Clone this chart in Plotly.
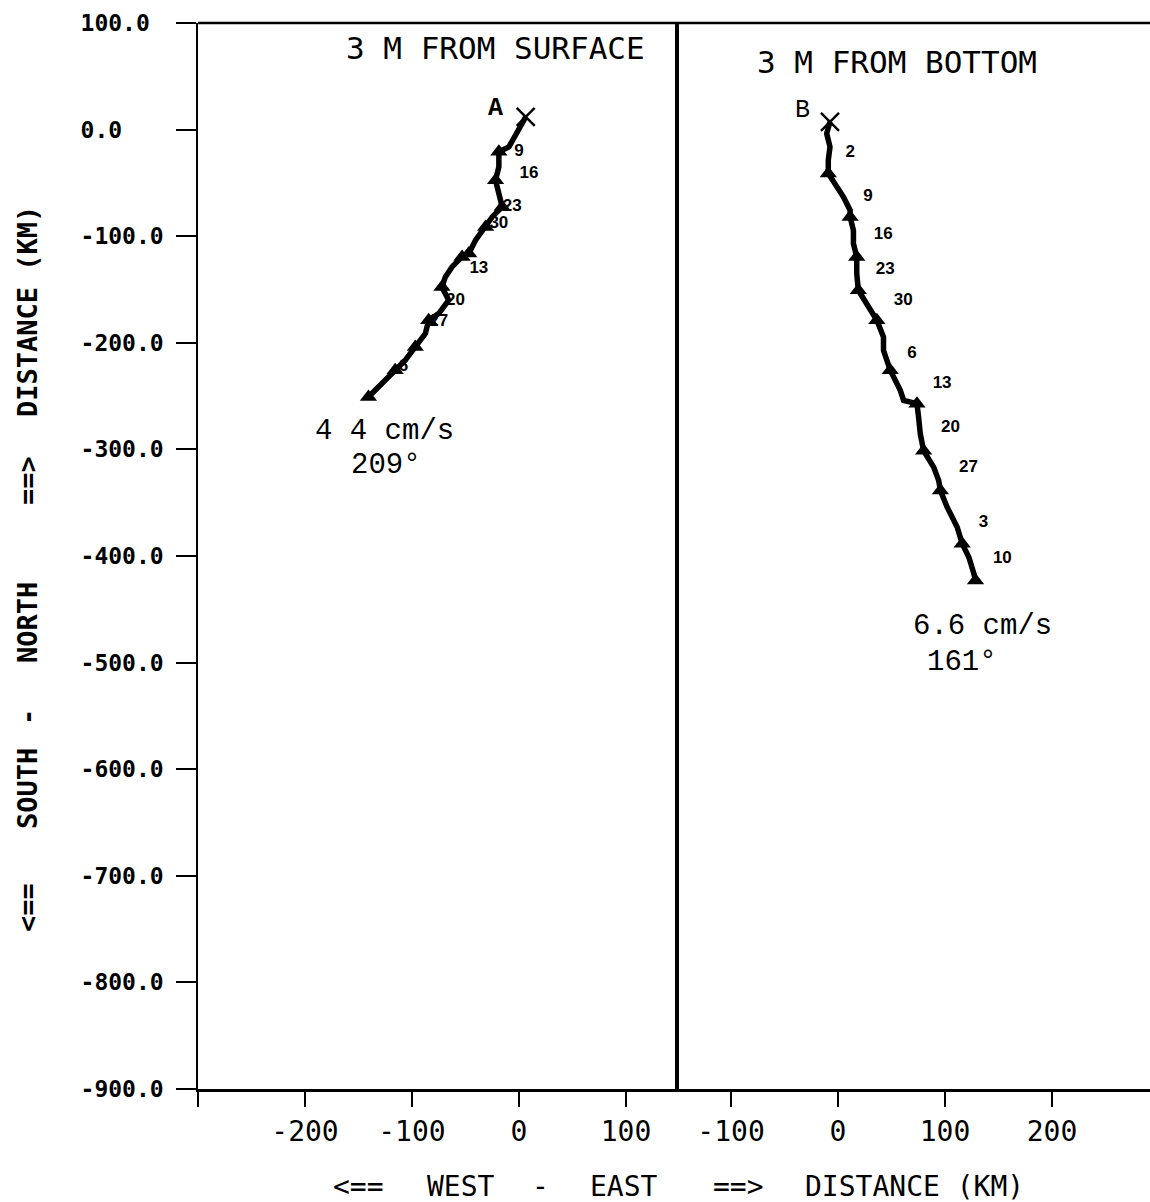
import plotly.graph_objects as go

# ---- progressive vector paths (km east, km north) ----
# 3 m below the surface (meter A)
surf_east = [6.3, -1.6, -9.4, -18.8, -18.8, -21.9, -18.8, -15.7, -25.0, -31.2,
             -40.6, -46.9, -53.2, -62.6, -68.8, -72.0, -65.7, -75.0, -84.4, -87.5,
             -96.9, -106.3, -115.7, -125.0, -134.4, -140.7]
surf_north = [12.0, -3.6, -16.2, -20.8, -34.9, -47.4, -59.9, -72.5, -81.9, -91.3,
              -103.8, -116.2, -119.4, -128.8, -138.2, -147.6, -160.1, -172.6, -178.9, -191.4,
              -203.9, -216.4, -225.8, -235.2, -244.6, -250.9]

# 3 m above the bottom (meter B)
bot_east = [-7.5, -10.6, -7.5, -9.1, -9.1, -2.8, 5.0, 11.3, 11.3, 14.4,
            14.4, 17.5, 17.5, 19.0, 26.9, 36.3, 42.5, 42.5, 48.8, 58.2,
            61.3, 73.8, 75.3, 76.9, 80.0, 89.4, 94.1, 95.7, 102.0, 111.4,
            116.1, 122.3, 127.0, 128.5]
bot_north = [7.3, -3.6, -16.2, -28.6, -41.1, -50.5, -63.1, -75.6, -81.9, -94.4,
             -106.9, -119.4, -135.0, -150.7, -163.2, -178.9, -194.6, -207.0, -225.8, -244.6,
             -254.0, -257.1, -269.7, -285.3, -301.2, -316.6, -329.1, -338.5, -354.2, -373.0,
             -388.5, -401.1, -416.7, -423.0]

# weekly positions (triangles)
surf_week_east = [-18.8, -21.9, -15.7, -31.2, -46.9, -53.2, -72.0, -84.4, -96.9, -115.7, -140.7]
surf_week_north = [-20.8, -47.4, -72.5, -91.3, -116.2, -119.4, -147.6, -178.9, -203.9, -225.8, -250.9]
bot_week_east = [-9.1, 11.3, 17.5, 19.0, 36.3, 48.8, 73.8, 80.0, 95.7, 116.1, 128.5]
bot_week_north = [-41.1, -81.9, -119.4, -150.7, -178.9, -225.8, -257.1, -301.2, -338.5, -388.5, -423.0]

# day-of-month labels along the paths
surf_day_text = ["9", "16", "23", "30", "13", "20", "27", "6"]
surf_day_east = [0.0, 9.4, -6.3, -18.8, -37.5, -59.4, -75.0, -107.9]
surf_day_north = [-20.8, -41.1, -72.5, -88.1, -130.2, -160.1, -180.5, -222.8]
bot_day_text = ["2", "9", "16", "23", "30", "6", "13", "20", "27", "3", "10"]
bot_day_east = [11.3, 28.1, 42.2, 44.1, 61.0, 69.1, 97.3, 105.1, 122.0, 136.0, 153.6]
bot_day_north = [-22.1, -63.4, -99.1, -131.9, -160.1, -209.9, -238.0, -279.3, -316.9, -368.5, -402.3]

# mean-current summaries
surf_mean = ["4 4 cm/s", "209°"]
surf_mean_east = [-125.5, -124.3]
surf_mean_north = [-283.0, -315.0]
bot_mean = ["6.6 cm/s", "161°"]
bot_mean_east = [135.5, 115.6]
bot_mean_north = [-466.0, -499.5]

# axes
y_ticks = [100, 0, -100, -200, -300, -400, -500, -600, -700, -800, -900]
y_tick_text = ["100.0", "0.0", "-100.0", "-200.0", "-300.0", "-400.0",
               "-500.0", "-600.0", "-700.0", "-800.0", "-900.0"]
left_x_ticks = [-300, -200, -100, 0, 100]
left_x_text = ["", "-200", "-100", "0", "100"]
right_x_ticks = [-100, 0, 100, 200]
right_x_text = ["-100", "0", "100", "200"]

W, H = 1150, 1202
BLACK = "black"
MONO = "DejaVu Sans Mono"
TYPE = "Liberation Mono"
NBSP = "\u00a0"


def px(x):
    return x / W


def py(y):
    return 1 - y / H


X_LEFT, X_DIV = 198, 677
Y_TOP, Y_BOT = 23, 1089

# y labels are left-justified in a fixed-width column
label_width = max(len(t) for t in y_tick_text)
y_tick_padded = [t + NBSP * (label_width - len(t)) for t in y_tick_text]

fig = go.Figure()


def add_panel(xa, ya, east, north, wk_e, wk_n, d_e, d_n, d_t):
    fig.add_trace(go.Scatter(
        x=d_e, y=d_n, text=d_t, mode="text", xaxis=xa, yaxis=ya,
        textfont=dict(family="Liberation Sans", size=17, color=BLACK, weight="bold"),
        showlegend=False, hoverinfo="skip"))
    fig.add_trace(go.Scatter(
        x=east, y=north, mode="lines", xaxis=xa, yaxis=ya,
        line=dict(color=BLACK, width=5.5), showlegend=False))
    fig.add_trace(go.Scatter(
        x=wk_e, y=wk_n, mode="markers", xaxis=xa, yaxis=ya,
        marker=dict(symbol="triangle-up", size=15, color=BLACK),
        showlegend=False))
    fig.add_trace(go.Scatter(
        x=[east[0]], y=[north[0]], mode="markers", xaxis=xa, yaxis=ya,
        marker=dict(symbol="x-thin", size=18, line=dict(color=BLACK, width=2.5)),
        showlegend=False))


add_panel("x", "y", surf_east, surf_north, surf_week_east, surf_week_north,
          surf_day_east, surf_day_north, surf_day_text)
add_panel("x2", "y2", bot_east, bot_north, bot_week_east, bot_week_north,
          bot_day_east, bot_day_north, bot_day_text)

x_dom_left = [px(X_LEFT), px(X_DIV)]
x_dom_right = [px(X_DIV), 1.0]
y_dom = [py(Y_BOT), py(Y_TOP)]

common_x = dict(showgrid=False, zeroline=False, showline=True, linecolor=BLACK,
                linewidth=3, ticks="outside", ticklen=15, tickwidth=2, tickcolor=BLACK,
                automargin=False,
                tickfont=dict(family=MONO, size=28, color=BLACK), fixedrange=True)

fig.update_layout(
    width=W, height=H,
    margin=dict(l=0, r=0, t=0, b=0, autoexpand=False),
    paper_bgcolor="white", plot_bgcolor="white",
    xaxis=dict(common_x, domain=x_dom_left, range=[-300, 147.7], anchor="y",
               tickmode="array", tickvals=left_x_ticks, ticktext=left_x_text),
    xaxis2=dict(common_x, domain=x_dom_right, range=[-150.5, 291.6], anchor="y2",
                tickmode="array", tickvals=right_x_ticks, ticktext=right_x_text),
    yaxis=dict(domain=y_dom, range=[-900, 100], anchor="x", showgrid=False, zeroline=False,
               showline=True, linecolor=BLACK, linewidth=1.5, ticks="outside", ticklen=20,
               tickwidth=2, tickcolor=BLACK, tickmode="array", tickvals=y_ticks,
               ticktext=y_tick_padded, ticklabelstandoff=8, automargin=False,
               tickfont=dict(family=MONO, size=23, color=BLACK, weight="bold"),
               fixedrange=True),
    yaxis2=dict(domain=y_dom, range=[-900, 100], anchor="x2", matches="y",
                showgrid=False, zeroline=False, showline=False, showticklabels=False,
                ticks="", automargin=False, fixedrange=True),
)

# frame: top border and central divider
fig.add_shape(type="line", xref="paper", yref="paper",
              x0=px(X_LEFT), x1=1.0, y0=py(Y_TOP), y1=py(Y_TOP),
              line=dict(color=BLACK, width=2.5))
fig.add_shape(type="line", xref="paper", yref="paper",
              x0=px(X_DIV), x1=px(X_DIV), y0=py(Y_BOT), y1=py(Y_TOP),
              line=dict(color=BLACK, width=4))

ann = []


def note(text, x, y, xref, yref, font, angle=0):
    ann.append(dict(text=text, x=x, y=y, xref=xref, yref=yref, showarrow=False,
                    xanchor="center", yanchor="middle", textangle=angle, font=font))


# panel titles
note("3 M FROM SURFACE", px(495), py(48), "paper", "paper",
     dict(family=MONO, size=31, color=BLACK))
note("3 M FROM BOTTOM", px(897), py(62), "paper", "paper",
     dict(family=MONO, size=31, color=BLACK))
# meter letters
note("A", -22, 20, "x", "y", dict(family=TYPE, size=25, color=BLACK, weight="bold"))
note("B", -33, 18.3, "x2", "y2", dict(family=TYPE, size=25, color=BLACK))
# mean current text
for t, e, n in zip(surf_mean, surf_mean_east, surf_mean_north):
    note(t, e, n, "x", "y", dict(family=TYPE, size=29, color=BLACK))
for t, e, n in zip(bot_mean, bot_mean_east, bot_mean_north):
    note(t, e, n, "x2", "y2", dict(family=TYPE, size=29, color=BLACK))

# x-axis title pieces
x_title = [("<==", 358), ("WEST", 461), ("-", 540), ("EAST", 624), ("==>", 738), ("DISTANCE (KM)", 914)]
for t, xc in x_title:
    note(t, px(xc), py(1186), "paper", "paper", dict(family=MONO, size=28, color=BLACK))

# y-axis title pieces (rotated)
y_title = [("<==", 907), ("SOUTH", 788), ("-", 717), ("NORTH", 622), ("==>", 480), ("DISTANCE (KM)", 312)]
for t, yc in y_title:
    note(t, px(27), py(yc), "paper", "paper",
         dict(family=MONO, size=27, color=BLACK, weight="bold"), angle=-90)

fig.update_layout(annotations=ann)

fig.write_html("out.html")
